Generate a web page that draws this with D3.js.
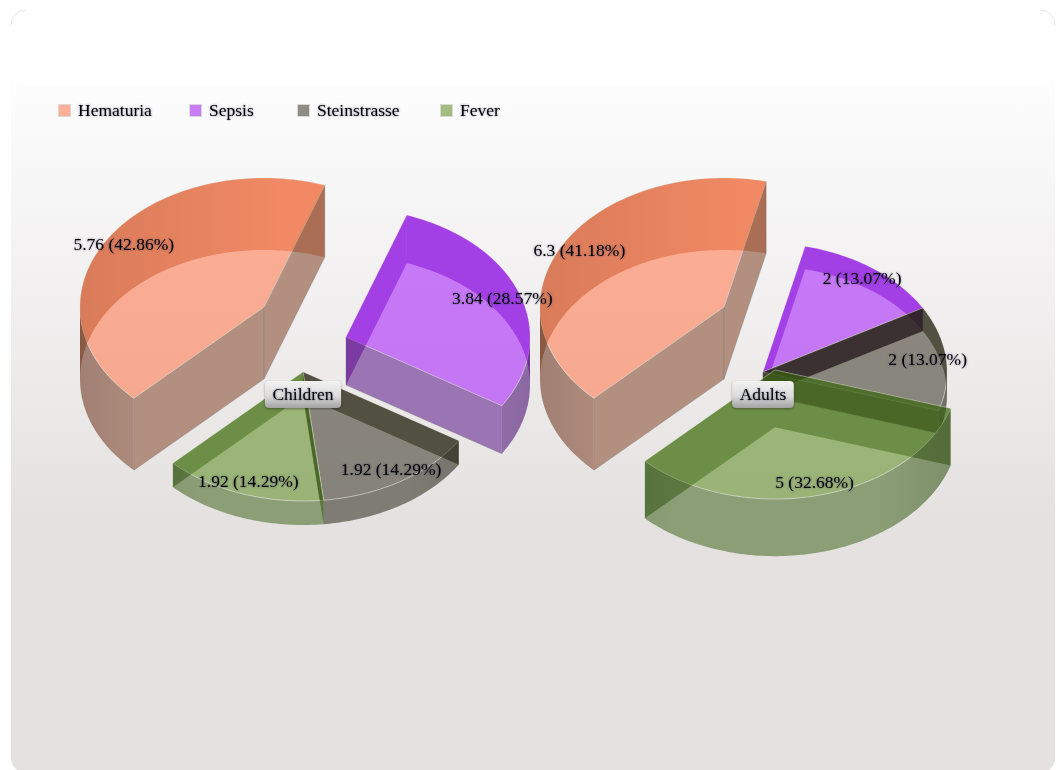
<!DOCTYPE html>
<html>
<head>
<meta charset="utf-8">
<script src="https://cdnjs.cloudflare.com/ajax/libs/d3/7.8.5/d3.min.js"></script>
<style>
  html, body { margin: 0; padding: 0; background: #fff; overflow: hidden; }
  text { font-family: "Liberation Serif", "Times New Roman", serif; font-size: 17.5px; fill: #000; }
  .soft { filter: drop-shadow(0 0 1px rgba(40, 40, 90, 0.6)); }
</style>
</head>
<body>
<svg id="chart" width="1061" height="770"></svg>
<script>
// chart values
const categories = ['Hematuria', 'Sepsis', 'Steinstrasse', 'Fever'];
const childrenValues = [5.76, 3.84, 1.92, 1.92];
const adultsValues = [6.3, 2, 2, 5];

// per category styles
const baseColors = ['#ff7f55', '#a928fa', '#464233', '#67932f'];
const wallColors = ['#b38f80', '#9b74b3', '#7f7c74', '#8b9e76'];
const shadeColors = ['#f1c4a6', '#cc80e8', '#91907b', '#a8bf88'];

// layout
const rx = 184, ry = 129, maxDepth = 72, labelRadius = 0.9;
const legendX = [58, 189, 297, 440];
const pies = [
  { title: 'Children', values: childrenValues, cx: 303, cy: 372, titleY: 395,
    offsets: [[-39, -65], [43, -35], [0, 0], [0, 0]] },
  { title: 'Adults', values: adultsValues, cx: 763, cy: 372, titleY: 395,
    offsets: [[-39, -65], [0, 0], [0, 0], [12, -2]] },
];

const svg = d3.select('#chart');
const defs = svg.append('defs');
const color = d3.scaleOrdinal().domain(categories).range(baseColors);
const wall = d3.scaleOrdinal().domain(categories).range(wallColors);
const shade = d3.scaleOrdinal().domain(categories).range(shadeColors);

// card background
const bg = defs.append('linearGradient').attr('id', 'card')
  .attr('gradientUnits', 'userSpaceOnUse')
  .attr('x1', 0).attr('x2', 0).attr('y1', 85).attr('y2', 520);
bg.append('stop').attr('offset', 0).attr('stop-color', '#fdfdfd');
bg.append('stop').attr('offset', 1).attr('stop-color', '#e5e1e1');

svg.append('rect')
  .attr('x', 11).attr('y', 10).attr('width', 1044).attr('height', 763).attr('rx', 15)
  .attr('fill', 'url(#card)');
svg.append('rect') // top of the card is plain white
  .attr('x', 11).attr('y', 10).attr('width', 1044).attr('height', 75).attr('rx', 15)
  .attr('fill', '#fff');
svg.append('path')
  .attr('d', 'M11,25A15,15 0 0 1 26,10M1040,10A15,15 0 0 1 1055,25')
  .attr('fill', 'none').attr('stroke', '#e6e6e6');

const line = d3.line();

function rim(a0, a1, cx, cy) {
  const n = Math.max(2, Math.ceil(Math.abs(a1 - a0) / 0.02));
  return d3.range(n + 1).map((k) => {
    const a = a0 + ((a1 - a0) * k) / n;
    return [cx + rx * Math.sin(a), cy - ry * Math.cos(a)];
  });
}

// cut an angle range where the rim turns from back to front
function splitRim(a0, a1) {
  const cuts = [a0];
  for (let k = -2; k < 6; k++) {
    const t = Math.PI / 2 + k * Math.PI;
    if (t > a0 && t < a1) cuts.push(t);
  }
  cuts.push(a1);
  return d3.pairs(cuts);
}

const pieGen = d3.pie()
  .sort(null)
  .startAngle((225 * Math.PI) / 180)
  .endAngle((585 * Math.PI) / 180);

pies.forEach((p, pi) => {
  const depth = d3.scaleLinear().domain([0, d3.max(p.values)]).range([0, maxDepth]);
  const arcs = pieGen(p.values);
  const g = svg.append('g').style('isolation', 'isolate');

  arcs.forEach((d, i) => {
    const c = categories[i];
    const cx = p.cx + p.offsets[i][0];
    const cy = p.cy + p.offsets[i][1];
    const h = depth(d.value);
    const a0 = d.startAngle, a1 = d.endAngle;
    const apex = [cx, cy];

    // curved walls shade towards the sides of the pie
    const frontId = `front${pi}${i}`, backId = `back${pi}${i}`;
    const fg = defs.append('linearGradient').attr('id', frontId)
      .attr('gradientUnits', 'userSpaceOnUse')
      .attr('x1', cx - rx).attr('x2', cx + rx).attr('y1', 0).attr('y2', 0);
    const dim = d3.color(wall(c)).darker(0.3);
    fg.append('stop').attr('offset', 0).attr('stop-color', dim);
    fg.append('stop').attr('offset', 0.22).attr('stop-color', wall(c));
    fg.append('stop').attr('offset', 0.78).attr('stop-color', wall(c));
    fg.append('stop').attr('offset', 1).attr('stop-color', dim);
    const bgr = defs.append('linearGradient').attr('id', backId)
      .attr('gradientUnits', 'userSpaceOnUse')
      .attr('x1', cx - rx).attr('x2', cx + rx).attr('y1', 0).attr('y2', 0);
    bgr.append('stop').attr('offset', 0).attr('stop-color', d3.color(shade(c)).darker(0.3));
    bgr.append('stop').attr('offset', 0.55).attr('stop-color', shade(c));

    const bands = splitRim(a0, a1).map(([s, e]) => {
      const top = rim(s, e, cx, cy);
      const bottom = top.map((q) => [q[0], q[1] + h]).reverse();
      return { back: Math.cos((s + e) / 2) > 0, pts: top.concat(bottom) };
    });
    const wallAt = (a) => {
      const q = rim(a, a, cx, cy)[0];
      return [apex, q, [q[0], q[1] + h], [apex[0], apex[1] + h]];
    };
    const walls = [
      { pts: wallAt(a0), back: Math.cos(a0 - Math.PI / 2) > 0 },
      { pts: wallAt(a1), back: Math.cos(a1 + Math.PI / 2) > 0 },
    ];

    // surfaces facing the viewer
    g.selectAll(null).data(walls.filter((w) => !w.back)).join('path')
      .attr('d', (w) => line(w.pts) + 'Z')
      .attr('fill', wall(c))
      .attr('stroke', 'rgba(125,125,125,0.4)').attr('stroke-width', 1);
    g.selectAll(null).data(bands.filter((b) => !b.back)).join('path')
      .attr('d', (b) => line(b.pts) + 'Z')
      .attr('fill', `url(#${frontId})`);

    // top face
    g.append('path')
      .attr('d', line([apex].concat(rim(a0, a1, cx, cy))) + 'Z')
      .attr('fill', color(c)).attr('fill-opacity', 0.6)
      .attr('stroke', 'rgba(232,232,232,0.55)').attr('stroke-width', 1);

    // surfaces behind the top face
    g.selectAll(null).data(walls.filter((w) => w.back)).join('path')
      .attr('d', (w) => line(w.pts) + 'Z')
      .attr('fill', shade(c))
      .style('mix-blend-mode', 'multiply');
    g.selectAll(null).data(bands.filter((b) => b.back)).join('path')
      .attr('d', (b) => line(b.pts) + 'Z')
      .attr('fill', `url(#${backId})`)
      .style('mix-blend-mode', 'multiply');
  });
});

// value labels, above both pies
pies.forEach((p) => {
  const total = d3.sum(p.values);
  svg.selectAll(null).data(pieGen(p.values)).join('text')
    .attr('class', 'soft')
    .attr('text-anchor', 'middle')
    .attr('dominant-baseline', 'middle')
    .attr('x', (d, i) => p.cx + p.offsets[i][0] + labelRadius * rx * Math.sin((d.startAngle + d.endAngle) / 2))
    .attr('y', (d, i) => p.cy + p.offsets[i][1] + 1 - labelRadius * ry * Math.cos((d.startAngle + d.endAngle) / 2))
    .text((d) => `${d.value} (${((d.value / total) * 100).toFixed(2)}%)`);
});

// pie titles
const tg = defs.append('linearGradient').attr('id', 'titleBox').attr('x2', 0).attr('y2', 1);
tg.append('stop').attr('offset', 0).attr('stop-color', '#f2f2f2');
tg.append('stop').attr('offset', 0.55).attr('stop-color', '#dcdcdc');
tg.append('stop').attr('offset', 1).attr('stop-color', '#a2a2a2');

pies.forEach((p) => {
  const g = svg.append('g');
  const box = g.append('rect')
    .attr('y', p.titleY - 14).attr('height', 27).attr('rx', 4)
    .attr('fill', 'url(#titleBox)')
    .style('filter', 'drop-shadow(0 1px 1px rgba(0,0,0,0.35))');
  const t = g.append('text')
    .attr('class', 'soft')
    .attr('x', p.cx).attr('y', p.titleY + 1)
    .attr('text-anchor', 'middle').attr('dominant-baseline', 'middle')
    .text(p.title);
  const w = t.node().getComputedTextLength() + 15;
  box.attr('x', p.cx - w / 2).attr('width', w);
});

// legend
categories.forEach((c, i) => {
  svg.append('rect')
    .attr('x', legendX[i] + 0.5).attr('y', 104.5).attr('width', 12).attr('height', 12)
    .attr('fill', color(c)).attr('fill-opacity', 0.6)
    .attr('stroke', '#d8d8d8').attr('stroke-width', 1);
  svg.append('text')
    .attr('class', 'soft')
    .attr('x', legendX[i] + 20).attr('y', 112)
    .attr('dominant-baseline', 'middle')
    .text(c);
});
</script>
</body>
</html>
